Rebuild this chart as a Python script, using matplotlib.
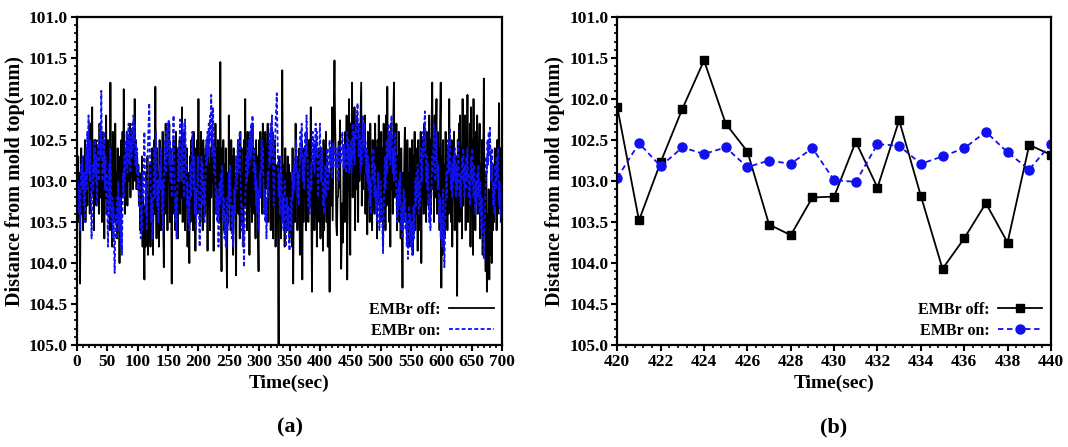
import numpy as np
import matplotlib
matplotlib.use("Agg")
import matplotlib.pyplot as plt
from matplotlib.ticker import MultipleLocator, AutoMinorLocator, FormatStrFormatter

plt.rcParams["font.family"] = ["Liberation Serif", "DejaVu Serif"]
plt.rcParams["font.weight"] = "bold"

# EMBr off, 1 s sampling, t = 0..700 s
embr_off = [
    102.6, 103.3, 102.7, 103.5, 102.9, 104.25, 103.1, 102.6, 103.4, 102.8,
    103.6, 102.7, 103.2, 102.5, 103.5, 102.9, 102.6, 103.3, 102.5, 103.0,
    102.7, 103.4, 102.3, 103.1, 102.6, 102.1, 103.2, 102.7, 103.6, 102.5,
    103.0, 102.5, 103.3, 102.7, 103.1, 102.6, 103.4, 102.3, 102.9, 103.2,
    102.6, 103.5, 102.4, 103.0, 102.8, 103.7, 102.5, 103.2, 102.2, 103.4,
    102.9, 102.5, 103.3, 102.7, 103.6, 101.8, 103.1, 102.6, 103.8, 102.4,
    103.2, 102.8, 103.5, 102.3, 103.4, 102.9, 103.7, 102.6, 103.3, 102.7,
    104.0, 102.9, 103.5, 102.5, 103.2, 102.4, 103.0, 101.88, 102.9, 103.4,
    102.6, 103.1, 102.4, 103.3, 102.7, 102.5, 103.0, 102.3, 103.2, 102.6,
    102.9, 102.4, 103.1, 102.5, 102.8, 102.0, 103.0, 102.5, 103.1, 102.7,
    103.1, 102.8, 103.3, 102.9, 103.6, 103.0, 103.5, 102.7, 103.8, 103.2,
    103.7, 104.2, 103.3, 103.8, 102.9, 103.6, 102.7, 103.9, 103.2, 103.7,
    102.8, 103.8, 103.1, 103.5, 102.6, 103.9, 103.3, 102.5, 103.4, 101.85,
    103.0, 103.7, 102.6, 103.4, 102.9, 103.8, 102.5, 103.2, 103.6, 102.7,
    103.3, 102.4, 103.5, 104.05, 102.8, 103.1, 102.3, 103.4, 102.7, 103.6,
    102.5, 103.0, 102.3, 103.5, 102.6, 103.2, 104.25, 102.8, 103.4, 102.5,
    103.3, 102.7, 103.6, 102.4, 103.1, 102.6, 103.7, 102.9, 103.3, 102.5,
    103.4, 102.8, 103.2, 102.1, 103.5, 102.7, 103.0, 102.4, 103.6, 102.8,
    103.3, 102.6, 103.8, 102.9, 103.4, 104.0, 102.7, 103.5, 102.5, 103.2,
    102.8, 103.6, 102.4, 103.3, 102.7, 103.85, 102.6, 103.1, 102.5, 103.4,
    102.0, 103.2, 102.7, 103.5, 102.4, 103.0, 102.8, 103.6, 102.5, 103.3,
    102.7, 103.4, 102.6, 103.1, 102.9, 103.85, 102.5, 103.3, 102.8, 103.6,
    102.6, 103.2, 102.4, 103.0, 102.7, 103.85, 102.5, 103.4, 102.3, 103.1,
    102.6, 103.3, 102.5, 103.0, 102.7, 103.5, 101.55, 103.2, 104.1, 102.6,
    103.3, 102.5, 103.6, 102.8, 103.4, 102.6, 103.7, 104.3, 102.9, 103.5,
    102.2, 103.2, 102.8, 103.6, 102.5, 103.3, 102.7, 103.9, 102.6, 103.1,
    102.9, 103.6, 104.15, 102.7, 103.3, 102.5, 103.4, 102.8, 103.7, 102.4,
    103.2, 102.6, 103.5, 102.9, 103.8, 102.5, 103.3, 102.0, 103.1, 102.7,
    103.6, 102.4, 103.2, 102.7, 103.9, 102.5, 103.3, 102.8, 103.5, 102.3,
    103.1, 102.6, 103.4, 102.9, 103.7, 102.5, 103.0, 102.7, 103.6, 104.1,
    102.5, 103.2, 102.4, 102.9, 102.6, 103.4, 102.3, 103.0, 102.5, 103.3,
    102.4, 103.1, 102.6, 102.9, 102.3, 103.5, 102.5, 103.0, 102.7, 103.6,
    102.6, 103.2, 102.4, 103.7, 102.7, 103.3, 102.5, 103.8, 102.9, 103.4,
    102.8, 103.6, 105.0, 102.7, 103.4, 102.9, 103.7, 103.1, 101.65, 103.0,
    103.5, 102.8, 103.8, 102.6, 103.3, 102.9, 103.6, 102.7, 103.4, 102.8,
    103.7, 102.9, 103.5, 103.0, 103.8, 102.6, 104.25, 103.1, 102.8, 103.5,
    102.3, 103.2, 102.7, 103.6, 102.9, 103.4, 102.6, 103.9, 102.8, 103.3,
    102.5, 104.2, 102.9, 103.5, 102.6, 103.1, 102.8, 103.6, 102.4, 103.2,
    102.7, 103.5, 102.5, 103.3, 102.9, 102.1, 103.4, 104.35, 102.8, 103.2,
    102.6, 103.6, 102.9, 103.4, 102.5, 103.8, 102.7, 103.3, 102.6, 103.5,
    102.8, 103.7, 102.6, 103.4, 102.9, 103.85, 102.5, 103.6, 102.8, 103.3,
    102.4, 103.5, 102.7, 103.8, 102.9, 103.4, 104.35, 103.0, 102.6, 103.3,
    102.10, 103.48, 102.77, 102.12, 101.53, 102.30, 102.64, 103.53, 103.66, 103.20,
    103.19, 102.52, 103.08, 102.26, 103.18, 104.07, 103.70, 103.27, 103.75, 102.56,
    102.68, 103.5, 102.4, 103.3, 102.2, 104.2, 102.6, 103.1, 102.0, 103.4,
    103.9, 102.3, 102.9, 101.8, 103.2, 102.5, 103.0, 102.1, 103.6, 102.4,
    103.1, 102.2, 102.8, 103.5, 102.3, 103.0, 102.6, 102.2, 101.8, 103.3,
    102.5, 103.1, 102.3, 102.9, 102.2, 103.4, 102.6, 103.0, 103.65, 102.4,
    103.2, 102.6, 103.5, 102.3, 103.0, 102.7, 103.6, 102.5, 103.1, 102.8,
    103.4, 102.3, 103.2, 102.6, 103.7, 102.5, 103.0, 102.2, 103.3, 102.7,
    103.5, 102.4, 103.1, 102.6, 103.8, 102.3, 103.0, 102.5, 103.6, 102.2,
    103.3, 101.85, 103.0, 102.6, 103.5, 102.4, 103.8, 102.3, 103.1, 102.5,
    103.4, 102.2, 101.8, 103.2, 102.5, 103.0, 102.3, 103.6, 102.7, 103.2,
    102.4, 103.5, 102.8, 103.7, 102.6, 103.3, 104.3, 102.9, 103.5, 102.7,
    102.35, 103.4, 102.8, 103.6, 102.5, 103.2, 102.9, 103.8, 102.6, 103.3,
    102.8, 103.5, 102.5, 103.9, 102.7, 103.2, 102.4, 103.6, 102.9, 103.4,
    102.6, 103.85, 102.5, 103.3, 102.8, 103.6, 102.4, 104.0, 102.7, 103.2,
    102.5, 103.4, 102.3, 103.0, 102.6, 103.5, 102.4, 103.1, 102.7, 103.3,
    102.2, 103.0, 102.5, 103.4, 102.3, 101.8, 103.1, 102.6, 103.5, 102.2,
    103.2, 102.5, 102.0, 103.4, 102.4, 103.0, 102.6, 103.6, 102.3, 101.8,
    104.3, 102.7, 103.9, 102.5, 103.3, 102.8, 103.7, 102.4, 103.2, 102.9,
    103.6, 102.6, 103.4, 102.0, 103.1, 102.7, 103.5, 102.5, 103.8, 102.6,
    103.2, 102.4, 103.6, 102.9, 103.3, 102.7, 104.4, 102.5, 103.0, 102.3,
    103.5, 102.2, 103.1, 102.6, 103.7, 102.0, 103.3, 102.5, 103.0, 102.2,
    103.6, 102.4, 103.2, 101.95, 103.5, 102.6, 103.0, 102.3, 103.8, 102.1,
    103.3, 102.5, 103.9, 102.0, 103.1, 102.7, 103.6, 102.4, 103.2, 102.2,
    103.4, 102.6, 103.0, 102.3, 103.7, 102.8, 103.5, 102.5, 103.9, 102.7,
    101.75, 103.2, 103.6, 104.1, 102.9, 104.35, 103.4, 104.0, 103.1, 104.2,
    103.3, 103.9, 102.7, 104.0, 103.2, 103.6, 102.8, 103.5, 102.6, 103.3,
    102.7, 103.6, 102.5, 103.4, 102.8, 102.05, 103.1, 102.6, 103.5, 102.8,
    103.2,
]

# EMBr on, 1 s sampling, t = 0..700 s
embr_on = [
    102.9, 103.2, 103.0, 103.4, 103.1, 103.6, 103.2, 102.8, 103.1, 102.7,
    103.0, 103.3, 102.9, 103.5, 103.0, 102.6, 103.1, 102.4, 102.9, 102.2,
    102.7, 103.0, 102.5, 103.2, 103.7, 103.3, 102.8, 103.1, 102.6, 102.9,
    102.5, 103.0, 102.7, 103.3, 102.8, 102.5, 103.0, 102.6, 102.3, 102.7,
    101.9, 102.6, 103.0, 102.5, 102.9, 102.4, 103.1, 102.7, 103.4, 102.9,
    103.3, 103.8, 103.2, 102.8, 103.4, 102.6, 103.0, 103.5, 103.2, 103.7,
    103.3, 103.8, 104.12, 103.6, 103.4, 103.7, 103.2, 103.5, 103.0, 103.3,
    103.6, 103.2, 103.8, 103.4, 103.9, 103.3, 102.9, 103.2, 102.7, 103.0,
    102.5, 102.8, 102.4, 102.9, 102.6, 102.3, 102.8, 102.5, 102.9, 102.4,
    102.7, 102.3, 102.6, 102.2, 102.5, 102.3, 102.8, 102.5, 102.9, 102.6,
    103.1, 102.8, 103.3, 103.0, 103.4, 103.7, 103.3, 103.6, 102.9, 103.2,
    102.7, 102.4, 102.9, 103.4, 103.0, 103.6, 102.8, 102.5, 102.3, 102.05,
    102.6, 103.0, 103.5, 103.2, 103.7, 103.4, 103.0, 102.6, 103.2, 102.8,
    102.4, 102.8, 103.3, 103.0, 103.5, 103.2, 102.8, 103.1, 102.6, 102.9,
    103.4, 103.0, 103.6, 103.2, 102.8, 102.5, 102.9, 102.4, 102.7, 102.3,
    102.6, 102.25, 102.8, 102.5, 103.0, 102.7, 103.2, 102.9, 102.5, 102.2,
    102.7, 103.1, 103.5, 103.2, 103.7, 103.3, 102.9, 102.6, 103.0, 102.5,
    102.25, 102.7, 103.0, 102.6, 102.3, 102.8, 103.2, 102.7, 102.25, 102.6,
    102.9, 103.3, 103.0, 103.5, 103.2, 103.6, 103.1, 102.8, 103.2, 102.7,
    102.4, 102.8, 103.1, 102.7, 103.4, 103.1, 103.6, 103.3, 103.0, 102.7,
    103.1, 103.4, 103.8, 103.3, 103.0, 102.7, 103.1, 102.8, 103.3, 103.0,
    103.5, 103.2, 102.8, 102.5, 102.8, 102.4, 102.7, 102.3, 102.6, 102.2,
    102.5, 101.95, 102.3, 102.7, 102.1, 102.5, 102.9, 102.6, 103.1, 103.4,
    103.1, 103.5, 103.2, 103.8, 103.4, 103.0, 103.3, 102.9, 103.2, 102.8,
    103.1, 103.5, 103.2, 103.7, 103.4, 103.8, 103.5, 103.2, 103.6, 103.3,
    102.9, 103.2, 102.8, 103.1, 103.4, 103.7, 103.3, 103.8, 103.5, 103.1,
    103.4, 103.0, 102.7, 103.1, 102.8, 102.5, 102.9, 102.6, 102.4, 102.8,
    103.2, 103.6, 103.3, 103.8, 103.5, 104.05, 103.6, 103.3, 103.0, 102.7,
    103.0, 102.6, 102.9, 102.5, 102.8, 102.4, 102.7, 102.3, 102.6, 102.2,
    102.5, 102.9, 102.6, 103.1, 102.8, 103.3, 103.0, 103.4, 103.1, 103.6,
    103.3, 102.9, 103.2, 102.8, 102.5, 102.9, 102.6, 103.0, 103.4, 103.1,
    103.5, 103.2, 103.7, 103.3, 102.9, 103.2, 102.7, 102.4, 102.8, 102.3,
    102.7, 102.2, 102.6, 102.9, 103.3, 103.0, 102.6, 102.3, 102.1, 101.93,
    102.4, 102.8, 103.2, 102.9, 103.4, 103.1, 102.7, 103.0, 103.5, 103.2,
    103.6, 103.3, 103.0, 103.4, 103.8, 103.5, 103.2, 103.6, 103.3, 103.7,
    103.85, 103.5, 103.2, 103.6, 103.3, 102.9, 103.2, 102.8, 103.1, 102.7,
    102.9, 102.5, 102.8, 103.2, 102.9, 103.3, 103.0, 102.7, 102.4, 102.7,
    102.3, 102.6, 103.0, 102.7, 103.1, 102.8, 102.4, 102.7, 102.2, 102.5,
    102.9, 103.3, 103.0, 103.4, 103.1, 102.8, 103.1, 102.7, 102.4, 102.8,
    102.5, 102.9, 102.6, 102.3, 102.7, 102.4, 102.9, 103.2, 102.9, 102.6,
    102.3, 102.7, 103.0, 102.6, 102.9, 103.3, 103.0, 103.4, 103.1, 102.8,
    103.2, 102.9, 102.6, 102.9, 103.1, 102.7, 102.5, 102.8, 102.6, 102.9,
    102.96, 102.54, 102.82, 102.59, 102.67, 102.59, 102.83, 102.75, 102.79, 102.60,
    102.99, 103.01, 102.55, 102.57, 102.79, 102.70, 102.60, 102.40, 102.65, 102.86,
    102.55, 102.8, 102.6, 102.9, 102.7, 102.4, 102.8, 102.5, 102.9, 102.6,
    102.8, 102.5, 102.9, 102.6, 102.3, 102.7, 102.4, 102.8, 102.5, 102.2,
    102.5, 102.2, 102.05, 102.4, 102.7, 102.3, 102.6, 102.9, 102.5, 102.8,
    102.4, 102.2, 102.6, 102.3, 102.7, 102.5, 102.9, 102.6, 103.0, 102.7,
    103.1, 102.8, 103.3, 103.0, 103.4, 103.1, 102.7, 103.0, 102.6, 102.9,
    103.2, 102.8, 103.4, 103.1, 103.5, 103.2, 102.9, 103.3, 103.6, 103.3,
    103.0, 103.5, 103.2, 103.6, 103.88, 103.4, 103.0, 102.7, 103.1, 102.8,
    102.5, 102.9, 102.6, 102.3, 102.7, 102.4, 102.8, 102.5, 102.2, 102.6,
    102.9, 102.6, 103.0, 102.7, 102.4, 102.8, 103.2, 103.5, 103.1, 103.4,
    103.0, 103.3, 102.9, 103.2, 103.6, 103.3, 103.7, 103.4, 103.1, 103.5,
    103.2, 103.6, 103.4, 103.8, 103.5, 103.95, 103.6, 103.3, 103.7, 103.4,
    103.8, 103.5, 103.9, 103.6, 103.3, 103.7, 103.4, 103.0, 103.3, 102.9,
    103.2, 102.8, 103.1, 103.4, 103.0, 103.3, 102.9, 102.6, 103.0, 102.7,
    102.4, 102.7, 102.3, 102.15, 102.6, 103.0, 102.7, 103.1, 102.8, 103.2,
    103.5, 103.2, 103.6, 103.3, 103.0, 102.7, 102.9, 102.6, 102.3, 102.7,
    103.0, 102.7, 102.4, 102.8, 103.1, 102.8, 103.2, 103.5, 103.2, 103.7,
    103.4, 103.8, 103.5, 103.1, 103.6, 104.05, 103.6, 103.2, 102.9, 103.2,
    102.8, 102.5, 102.9, 102.6, 102.35, 102.8, 103.1, 102.8, 103.2, 103.0,
    102.7, 103.0, 102.6, 102.9, 103.2, 102.8, 103.1, 102.7, 102.5, 102.9,
    103.2, 102.9, 103.3, 103.0, 102.7, 103.0, 102.6, 102.9, 103.2, 102.8,
    103.1, 102.7, 103.0, 102.6, 102.9, 103.2, 102.9, 103.3, 103.0, 102.7,
    103.0, 102.6, 102.9, 103.2, 102.8, 103.1, 103.4, 103.0, 103.3, 102.9,
    103.2, 102.8, 103.1, 103.4, 103.0, 103.3, 103.6, 103.2, 103.5, 103.8,
    103.95, 103.6, 103.3, 103.0, 102.7, 102.9, 102.5, 102.8, 102.4, 102.7,
    102.35, 102.7, 103.0, 102.6, 102.9, 103.3, 103.0, 103.4, 103.1, 102.8,
    103.1, 102.7, 103.0, 102.6, 102.9, 103.3, 103.0, 103.4, 103.1, 103.5,
    103.2,
]

assert len(embr_off) == 701 and len(embr_on) == 701, (len(embr_off), len(embr_on))

time_full = np.arange(len(embr_off))
zoom_range = (420, 440)
panel_labels = ["(a)", "(b)"]

fig = plt.figure(figsize=(10.68, 4.47), dpi=100)
ax_a = fig.add_axes([0.0721, 0.228, 0.398, 0.734])
ax_b = fig.add_axes([0.578, 0.228, 0.406, 0.734])

ax_a.plot(time_full, embr_off, color="black", lw=1.3, label="EMBr off:")
ax_a.plot(time_full, embr_on, color="#1010f0", lw=1.3, ls=(0, (2.2, 1.3)), label="EMBr on:")

sel = (time_full >= zoom_range[0]) & (time_full <= zoom_range[1])
ax_b.plot(time_full[sel], np.asarray(embr_off)[sel], color="black", lw=1.3,
          marker="s", ms=5.5, label="EMBr off:")
ax_b.plot(time_full[sel], np.asarray(embr_on)[sel], color="#1010f0", lw=1.3,
          ls=(0, (3, 2)), marker="o", ms=6.5, label="EMBr on:")

ax_a.set_xlim(0, 700)
ax_a.xaxis.set_major_locator(MultipleLocator(50))
ax_b.set_xlim(*zoom_range)
ax_b.xaxis.set_major_locator(MultipleLocator(2))

for ax, lab in zip([ax_a, ax_b], panel_labels):
    ax.set_ylim(105.0, 101.0)
    ax.yaxis.set_major_locator(MultipleLocator(0.5))
    ax.yaxis.set_minor_locator(AutoMinorLocator(5))
    ax.xaxis.set_minor_locator(AutoMinorLocator(5))
    ax.yaxis.set_major_formatter(FormatStrFormatter("%.1f"))
    for s in ax.spines.values():
        s.set_linewidth(1.6)
    ax.tick_params(which="major", direction="out", length=4.5, width=1.5,
                   labelsize=12.5, top=False, right=False, pad=2)
    ax.tick_params(which="minor", direction="out", length=2.5, width=1.2,
                   top=False, right=False)
    for t in ax.get_xticklabels() + ax.get_yticklabels():
        t.set_fontweight("bold")
    ax.set_xlabel("Time(sec)", fontsize=14, fontweight="bold", labelpad=3)
    ax.set_ylabel("Distance from mold top(mm)", fontsize=14.5, fontweight="bold", labelpad=3)
    ax.legend(loc="lower right", frameon=False, markerfirst=False,
              prop={"weight": "bold", "size": 11.5}, handlelength=2.8,
              handletextpad=0.5, labelspacing=0.3, borderaxespad=0.0,
              bbox_to_anchor=(0.995, 0.0))
    ax.text(0.5, -0.22, lab, transform=ax.transAxes, ha="center", va="top",
            fontsize=16, fontweight="bold")

fig.savefig("out.png", dpi=100)
